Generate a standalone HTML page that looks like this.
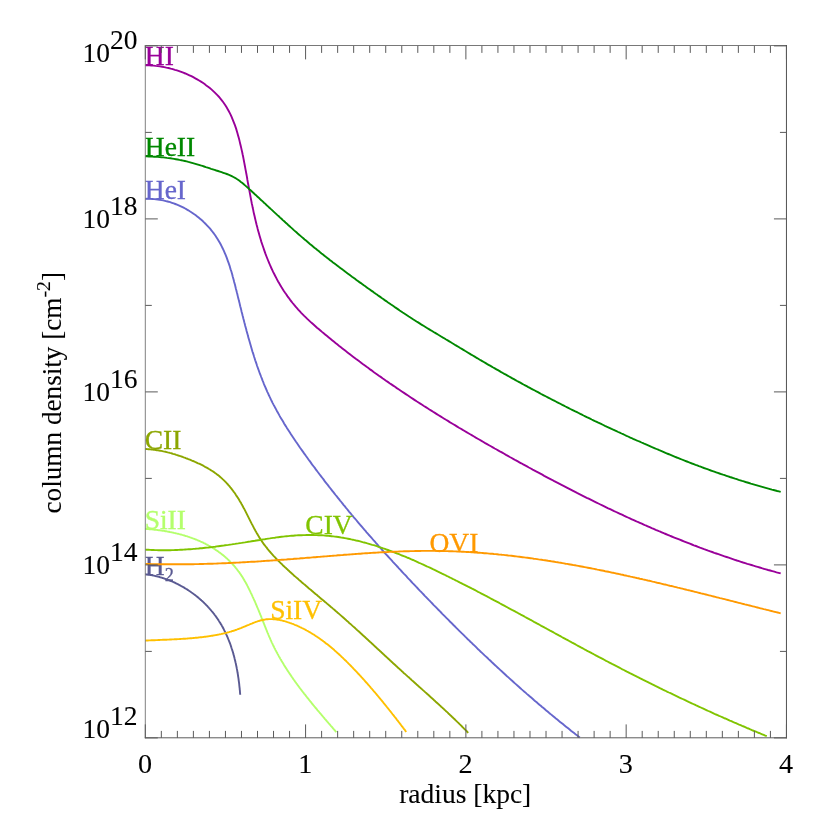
<!DOCTYPE html>
<html><head><meta charset="utf-8"><title>column density</title>
<style>html,body{margin:0;padding:0;background:#fff}svg{display:block}text{font-family:"Liberation Serif",serif}</style></head>
<body>
<svg width="830" height="830" viewBox="0 0 830 830" style="will-change:transform">
<rect width="830" height="830" fill="#fff"/>
<path fill="none" stroke="#990099" stroke-width="1.9" d="M145.0 65.3L147.1 65.3L149.2 65.4L151.4 65.5L153.5 65.6L155.7 65.9L157.8 66.1L159.9 66.4L162.1 66.7L164.2 67.1L166.4 67.6L168.5 68.0L170.7 68.6L172.8 69.1L174.9 69.8L177.0 70.4L179.1 71.1L181.2 71.9L183.3 72.7L185.3 73.5L187.4 74.4L189.4 75.3L191.4 76.2L193.3 77.2L195.3 78.3L197.2 79.4L199.1 80.5L201.0 81.6L202.8 82.8L204.6 84.1L206.3 85.4L208.1 86.7L209.8 88.0L211.4 89.4L213.0 90.9L214.6 92.4L216.1 93.9L217.6 95.4L219.1 97.0L220.4 98.6L221.8 100.3L223.1 102.0L224.3 103.7L225.5 105.5L226.6 107.3L227.7 109.2L228.7 111.0L229.7 112.9L230.7 114.8L231.6 116.8L232.4 118.8L233.2 120.8L234.0 122.8L234.8 124.8L235.5 126.9L236.2 128.9L236.8 131.0L237.4 133.1L238.0 135.2L238.6 137.3L239.2 139.4L239.7 141.6L240.2 143.7L240.7 145.8L241.2 147.9L241.7 150.1L242.2 152.2L242.6 154.3L243.1 156.5L243.5 158.6L243.9 160.7L244.3 162.9L244.7 165.0L245.1 167.1L245.5 169.3L245.9 171.4L246.3 173.5L246.7 175.7L247.1 177.8L247.4 179.9L247.8 182.1L248.2 184.2L248.6 186.4L249.0 188.5L249.4 190.6L249.8 192.8L250.2 194.9L250.6 197.1L251.0 199.2L251.4 201.4L251.8 203.5L252.3 205.6L252.7 207.8L253.2 209.9L253.6 212.1L254.1 214.2L254.6 216.3L255.1 218.5L255.6 220.6L256.1 222.7L256.6 224.8L257.2 226.9L257.7 229.0L258.3 231.2L258.9 233.3L259.5 235.4L260.1 237.4L260.7 239.5L261.3 241.6L262.0 243.7L262.7 245.7L263.4 247.8L264.1 249.9L264.8 251.9L265.5 253.9L266.3 256.0L267.1 258.0L267.9 260.0L268.7 262.0L269.6 264.0L270.4 266.0L271.3 268.0L272.2 269.9L273.1 271.9L274.1 273.8L275.1 275.7L276.1 277.7L277.1 279.6L278.1 281.5L279.2 283.3L280.3 285.2L281.4 287.1L282.6 288.9L283.7 290.7L284.9 292.5L286.2 294.3L287.4 296.1L288.7 297.8L290.0 299.6L291.3 301.3L292.6 303.0L294.0 304.7L295.4 306.3L296.8 308.0L298.2 309.6L299.7 311.2L301.2 312.8L302.7 314.3L304.2 315.9L305.8 317.4L307.3 318.9L308.9 320.4L310.5 321.9L312.1 323.3L313.8 324.8L315.4 326.2L317.0 327.7L318.7 329.1L320.4 330.5L322.0 331.9L323.7 333.3L325.4 334.7L327.1 336.1L328.8 337.5L330.4 338.8L332.1 340.2L333.8 341.6L335.5 343.0L337.2 344.3L338.9 345.7L340.6 347.0L342.4 348.4L344.1 349.7L345.8 351.1L347.5 352.4L349.2 353.7L350.9 355.1L352.7 356.4L354.4 357.7L356.1 359.0L357.9 360.3L359.6 361.6L361.4 362.9L363.1 364.2L364.9 365.5L366.6 366.8L368.4 368.1L370.1 369.4L371.9 370.6L373.6 371.9L375.4 373.2L377.2 374.4L378.9 375.7L380.7 376.9L382.5 378.2L384.3 379.4L386.0 380.7L387.8 381.9L389.6 383.2L391.4 384.4L393.2 385.6L395.0 386.8L396.8 388.1L398.6 389.3L400.4 390.5L402.2 391.7L404.0 392.9L405.8 394.1L407.6 395.3L409.4 396.5L411.2 397.7L413.0 398.9L414.8 400.1L416.6 401.3L418.5 402.5L420.3 403.6L422.1 404.8L423.9 406.0L425.8 407.1L427.6 408.3L429.4 409.5L431.3 410.6L433.1 411.8L434.9 412.9L436.8 414.1L438.6 415.2L440.5 416.4L442.3 417.5L444.2 418.7L446.0 419.8L447.9 420.9L449.7 422.1L451.6 423.2L453.4 424.3L455.3 425.4L457.2 426.6L459.0 427.7L460.9 428.8L462.7 429.9L464.6 431.0L466.5 432.1L468.4 433.2L470.2 434.3L472.1 435.4L474.0 436.5L475.8 437.6L477.7 438.7L479.6 439.8L481.5 440.9L483.4 442.0L485.2 443.1L487.1 444.1L489.0 445.2L490.9 446.3L492.8 447.4L494.7 448.5L496.6 449.5L498.5 450.6L500.4 451.7L502.3 452.7L504.2 453.8L506.0 454.9L507.9 455.9L509.8 457.0L511.7 458.0L513.6 459.1L515.5 460.2L517.4 461.2L519.4 462.3L521.3 463.3L523.2 464.4L525.1 465.4L527.0 466.4L528.9 467.5L530.8 468.5L532.7 469.6L534.6 470.6L536.5 471.6L538.5 472.7L540.4 473.7L542.3 474.7L544.2 475.8L546.1 476.8L548.0 477.8L550.0 478.8L551.9 479.8L553.8 480.9L555.7 481.9L557.7 482.9L559.6 483.9L561.5 484.9L563.5 485.9L565.4 486.9L567.3 487.9L569.3 488.9L571.2 489.9L573.1 490.9L575.1 491.9L577.0 492.9L578.9 493.8L580.9 494.8L582.8 495.8L584.8 496.8L586.7 497.8L588.7 498.7L590.6 499.7L592.6 500.7L594.5 501.6L596.5 502.6L598.4 503.5L600.4 504.5L602.3 505.4L604.3 506.4L606.2 507.3L608.2 508.3L610.2 509.2L612.1 510.1L614.1 511.1L616.1 512.0L618.0 512.9L620.0 513.8L622.0 514.7L623.9 515.7L625.9 516.6L627.9 517.5L629.9 518.4L631.8 519.3L633.8 520.2L635.8 521.1L637.8 522.0L639.8 522.8L641.8 523.7L643.7 524.6L645.7 525.5L647.7 526.3L649.7 527.2L651.7 528.1L653.7 528.9L655.7 529.8L657.7 530.6L659.7 531.5L661.7 532.3L663.7 533.2L665.7 534.0L667.7 534.8L669.7 535.7L671.7 536.5L673.7 537.3L675.7 538.1L677.8 538.9L679.8 539.7L681.8 540.5L683.8 541.3L685.8 542.1L687.8 542.9L689.9 543.7L691.9 544.5L693.9 545.3L696.0 546.0L698.0 546.8L700.0 547.6L702.0 548.3L704.1 549.1L706.1 549.8L708.2 550.6L710.2 551.3L712.2 552.0L714.3 552.8L716.3 553.5L718.4 554.2L720.4 554.9L722.5 555.6L724.5 556.3L726.6 557.0L728.7 557.7L730.7 558.4L732.8 559.1L734.8 559.8L736.9 560.5L739.0 561.1L741.0 561.8L743.1 562.5L745.2 563.1L747.3 563.8L749.3 564.4L751.4 565.0L753.5 565.7L755.6 566.3L757.6 566.9L759.7 567.5L761.8 568.2L763.9 568.8L766.0 569.4L768.1 570.0L770.2 570.5L772.3 571.1L774.4 571.7L776.5 572.3L778.6 572.8L780.7 573.4"/>
<text x="144.8" y="65.2" font-size="27.5" fill="#990099" stroke="#990099" stroke-width="0.3">HI</text>
<path fill="none" stroke="#008800" stroke-width="1.9" d="M145.0 156.4L146.8 156.4L148.7 156.5L150.5 156.5L152.3 156.6L154.1 156.7L156.0 156.8L157.8 156.9L159.6 157.1L161.4 157.3L163.2 157.4L165.1 157.6L166.9 157.9L168.7 158.1L170.5 158.3L172.3 158.6L174.1 158.9L175.9 159.2L177.7 159.5L179.5 159.9L181.3 160.2L183.1 160.6L184.8 161.0L186.6 161.4L188.4 161.9L190.1 162.3L191.9 162.8L193.7 163.3L195.4 163.8L197.1 164.3L198.9 164.8L200.6 165.4L202.4 165.9L204.1 166.5L205.8 167.1L207.6 167.6L209.3 168.2L211.1 168.8L212.8 169.3L214.6 169.9L216.3 170.5L218.1 171.0L219.8 171.6L221.6 172.2L223.3 172.8L225.1 173.4L226.8 174.0L228.5 174.7L230.1 175.4L231.8 176.2L233.4 177.0L235.0 177.8L236.5 178.8L238.0 179.7L239.5 180.8L240.9 181.9L242.4 183.0L243.8 184.2L245.1 185.4L246.5 186.6L247.9 187.8L249.2 189.1L250.6 190.3L251.9 191.5L253.3 192.8L254.6 194.0L256.0 195.2L257.3 196.5L258.7 197.7L260.0 199.0L261.3 200.2L262.7 201.4L264.0 202.7L265.4 203.9L266.7 205.2L268.0 206.4L269.4 207.7L270.7 208.9L272.1 210.1L273.4 211.4L274.7 212.6L276.1 213.9L277.4 215.1L278.8 216.3L280.1 217.6L281.5 218.8L282.8 220.1L284.2 221.3L285.5 222.5L286.9 223.7L288.2 225.0L289.6 226.2L290.9 227.4L292.3 228.6L293.6 229.9L295.0 231.1L296.4 232.3L297.7 233.5L299.1 234.7L300.5 235.9L301.9 237.1L303.3 238.3L304.6 239.5L306.0 240.6L307.4 241.8L308.8 243.0L310.2 244.2L311.6 245.3L313.0 246.5L314.4 247.7L315.9 248.8L317.3 250.0L318.7 251.1L320.1 252.3L321.5 253.4L323.0 254.5L324.4 255.7L325.8 256.8L327.3 257.9L328.7 259.0L330.1 260.2L331.6 261.3L333.0 262.4L334.5 263.5L335.9 264.6L337.4 265.7L338.8 266.8L340.3 267.9L341.8 269.0L343.2 270.1L344.7 271.2L346.1 272.3L347.6 273.4L349.1 274.5L350.5 275.6L352.0 276.7L353.5 277.7L355.0 278.8L356.4 279.9L357.9 281.0L359.4 282.1L360.9 283.1L362.4 284.2L363.8 285.3L365.3 286.3L366.8 287.4L368.3 288.5L369.8 289.5L371.3 290.6L372.8 291.6L374.2 292.7L375.7 293.8L377.2 294.8L378.7 295.9L380.2 296.9L381.7 298.0L383.2 299.0L384.7 300.1L386.2 301.1L387.7 302.2L389.2 303.2L390.7 304.3L392.2 305.3L393.7 306.3L395.2 307.4L396.7 308.4L398.2 309.4L399.7 310.5L401.2 311.5L402.7 312.5L404.3 313.5L405.8 314.5L407.3 315.5L408.8 316.5L410.4 317.5L411.9 318.5L413.4 319.5L415.0 320.5L416.5 321.5L418.1 322.4L419.6 323.4L421.1 324.4L422.7 325.3L424.3 326.3L425.8 327.2L427.4 328.2L428.9 329.1L430.5 330.1L432.1 331.0L433.6 332.0L435.2 332.9L436.8 333.8L438.3 334.8L439.9 335.7L441.5 336.7L443.0 337.6L444.6 338.5L446.1 339.5L447.7 340.4L449.3 341.4L450.8 342.3L452.4 343.3L454.0 344.2L455.5 345.2L457.1 346.1L458.7 347.0L460.2 348.0L461.8 348.9L463.4 349.9L464.9 350.8L466.5 351.7L468.1 352.7L469.6 353.6L471.2 354.6L472.8 355.5L474.3 356.4L475.9 357.4L477.5 358.3L479.0 359.2L480.6 360.2L482.2 361.1L483.8 362.0L485.3 362.9L486.9 363.9L488.5 364.8L490.1 365.7L491.7 366.6L493.2 367.5L494.8 368.4L496.4 369.3L498.0 370.2L499.6 371.1L501.2 372.1L502.8 373.0L504.3 373.9L505.9 374.7L507.5 375.6L509.1 376.5L510.7 377.4L512.3 378.3L513.9 379.2L515.5 380.1L517.1 381.0L518.7 381.8L520.3 382.7L521.9 383.6L523.5 384.5L525.1 385.3L526.7 386.2L528.3 387.1L529.9 387.9L531.5 388.8L533.1 389.7L534.8 390.5L536.4 391.4L538.0 392.2L539.6 393.1L541.2 394.0L542.8 394.8L544.4 395.7L546.1 396.5L547.7 397.3L549.3 398.2L550.9 399.0L552.5 399.9L554.2 400.7L555.8 401.5L557.4 402.4L559.0 403.2L560.7 404.0L562.3 404.9L563.9 405.7L565.5 406.5L567.2 407.3L568.8 408.2L570.4 409.0L572.1 409.8L573.7 410.6L575.3 411.4L577.0 412.2L578.6 413.0L580.3 413.9L581.9 414.7L583.5 415.5L585.2 416.3L586.8 417.1L588.5 417.9L590.1 418.7L591.7 419.5L593.4 420.3L595.0 421.1L596.7 421.8L598.3 422.6L600.0 423.4L601.6 424.2L603.3 425.0L604.9 425.8L606.6 426.6L608.2 427.3L609.9 428.1L611.5 428.9L613.2 429.7L614.8 430.4L616.5 431.2L618.2 432.0L619.8 432.7L621.5 433.5L623.1 434.2L624.8 435.0L626.5 435.8L628.1 436.5L629.8 437.3L631.5 438.0L633.1 438.8L634.8 439.5L636.5 440.3L638.1 441.0L639.8 441.7L641.5 442.5L643.1 443.2L644.8 444.0L646.5 444.7L648.2 445.4L649.8 446.1L651.5 446.9L653.2 447.6L654.9 448.3L656.5 449.0L658.2 449.7L659.9 450.5L661.6 451.2L663.3 451.9L664.9 452.6L666.6 453.3L668.3 454.0L670.0 454.7L671.7 455.4L673.4 456.1L675.1 456.8L676.8 457.5L678.5 458.1L680.2 458.8L681.8 459.5L683.5 460.2L685.2 460.8L686.9 461.5L688.6 462.2L690.3 462.8L692.0 463.5L693.8 464.1L695.5 464.8L697.2 465.4L698.9 466.1L700.6 466.7L702.3 467.3L704.0 468.0L705.7 468.6L707.4 469.2L709.2 469.8L710.9 470.5L712.6 471.1L714.3 471.7L716.1 472.3L717.8 472.9L719.5 473.5L721.2 474.1L723.0 474.7L724.7 475.2L726.4 475.8L728.2 476.4L729.9 477.0L731.6 477.5L733.4 478.1L735.1 478.7L736.8 479.2L738.6 479.8L740.3 480.3L742.1 480.9L743.8 481.4L745.6 482.0L747.3 482.5L749.1 483.0L750.8 483.6L752.6 484.1L754.3 484.6L756.1 485.1L757.8 485.6L759.6 486.1L761.3 486.6L763.1 487.1L764.8 487.6L766.6 488.1L768.4 488.6L770.1 489.1L771.9 489.6L773.6 490.0L775.4 490.5L777.2 491.0L778.9 491.4L780.7 491.9"/>
<text x="144.8" y="156.4" font-size="27.5" fill="#008800" stroke="#008800" stroke-width="0.3">HeII</text>
<path fill="none" stroke="#6666cc" stroke-width="1.9" d="M145.0 198.9L146.9 198.8L148.7 198.8L150.5 198.9L152.4 199.0L154.2 199.1L156.0 199.3L157.8 199.5L159.6 199.8L161.4 200.1L163.2 200.4L165.0 200.8L166.7 201.3L168.5 201.7L170.2 202.2L171.9 202.8L173.7 203.4L175.3 204.0L177.0 204.7L178.7 205.4L180.3 206.1L182.0 206.9L183.6 207.7L185.2 208.5L186.7 209.4L188.3 210.3L189.8 211.3L191.3 212.2L192.8 213.2L194.3 214.3L195.8 215.3L197.2 216.4L198.6 217.5L200.0 218.7L201.3 219.8L202.7 221.0L204.0 222.3L205.2 223.5L206.5 224.8L207.7 226.1L208.9 227.4L210.1 228.7L211.2 230.1L212.3 231.5L213.4 232.9L214.4 234.3L215.5 235.8L216.4 237.2L217.4 238.7L218.3 240.2L219.2 241.7L220.1 243.3L220.9 244.8L221.7 246.4L222.5 248.0L223.3 249.6L224.0 251.2L224.7 252.8L225.4 254.4L226.1 256.1L226.7 257.7L227.3 259.4L227.9 261.1L228.5 262.7L229.1 264.4L229.7 266.1L230.2 267.9L230.7 269.6L231.3 271.3L231.8 273.0L232.3 274.8L232.7 276.5L233.2 278.3L233.7 280.0L234.1 281.8L234.6 283.5L235.1 285.3L235.5 287.0L235.9 288.8L236.4 290.6L236.8 292.3L237.3 294.1L237.7 295.9L238.1 297.6L238.6 299.4L239.0 301.1L239.5 302.9L239.9 304.7L240.3 306.4L240.8 308.2L241.2 309.9L241.6 311.7L242.1 313.4L242.5 315.2L243.0 317.0L243.4 318.7L243.9 320.5L244.3 322.2L244.8 324.0L245.2 325.7L245.7 327.4L246.2 329.2L246.6 330.9L247.1 332.7L247.6 334.4L248.0 336.1L248.5 337.9L249.0 339.6L249.5 341.3L250.0 343.1L250.5 344.8L251.0 346.5L251.5 348.2L252.0 350.0L252.5 351.7L253.1 353.4L253.6 355.1L254.1 356.8L254.7 358.5L255.2 360.2L255.8 361.9L256.4 363.6L256.9 365.3L257.5 367.0L258.1 368.6L258.7 370.3L259.3 372.0L259.9 373.7L260.6 375.3L261.2 377.0L261.9 378.7L262.5 380.3L263.2 382.0L263.8 383.6L264.5 385.3L265.2 386.9L265.9 388.5L266.6 390.2L267.3 391.8L268.1 393.4L268.8 395.0L269.6 396.7L270.4 398.3L271.1 399.9L271.9 401.5L272.7 403.1L273.5 404.6L274.4 406.2L275.2 407.8L276.1 409.4L276.9 411.0L277.8 412.5L278.7 414.1L279.5 415.6L280.4 417.2L281.3 418.7L282.3 420.3L283.2 421.8L284.1 423.4L285.0 424.9L286.0 426.4L286.9 428.0L287.9 429.5L288.9 431.0L289.9 432.5L290.8 434.0L291.8 435.5L292.8 437.0L293.8 438.5L294.8 440.0L295.8 441.5L296.9 443.0L297.9 444.5L298.9 446.0L299.9 447.5L301.0 449.0L302.0 450.4L303.1 451.9L304.1 453.4L305.2 454.8L306.2 456.3L307.3 457.8L308.3 459.2L309.4 460.7L310.5 462.1L311.5 463.6L312.6 465.1L313.7 466.5L314.8 467.9L315.8 469.4L316.9 470.8L318.0 472.3L319.1 473.7L320.2 475.2L321.3 476.6L322.4 478.0L323.5 479.4L324.5 480.9L325.6 482.3L326.7 483.7L327.9 485.1L329.0 486.6L330.1 488.0L331.2 489.4L332.3 490.8L333.4 492.2L334.5 493.6L335.6 495.0L336.8 496.4L337.9 497.8L339.0 499.2L340.1 500.6L341.3 502.0L342.4 503.4L343.5 504.8L344.7 506.2L345.8 507.6L347.0 509.0L348.1 510.4L349.2 511.8L350.4 513.1L351.5 514.5L352.7 515.9L353.8 517.3L355.0 518.6L356.2 520.0L357.3 521.4L358.5 522.8L359.6 524.1L360.8 525.5L362.0 526.8L363.1 528.2L364.3 529.6L365.5 530.9L366.6 532.3L367.8 533.6L369.0 535.0L370.2 536.3L371.4 537.7L372.5 539.0L373.7 540.4L374.9 541.7L376.1 543.1L377.3 544.4L378.5 545.8L379.7 547.1L380.9 548.4L382.1 549.8L383.2 551.1L384.4 552.5L385.6 553.8L386.8 555.1L388.1 556.5L389.3 557.8L390.5 559.1L391.7 560.4L392.9 561.8L394.1 563.1L395.3 564.4L396.5 565.7L397.7 567.0L398.9 568.4L400.2 569.7L401.4 571.0L402.6 572.3L403.8 573.6L405.1 574.9L406.3 576.2L407.5 577.6L408.7 578.9L410.0 580.2L411.2 581.5L412.4 582.8L413.7 584.1L414.9 585.4L416.1 586.7L417.4 588.0L418.6 589.3L419.8 590.6L421.1 591.9L422.3 593.2L423.6 594.5L424.8 595.8L426.1 597.1L427.3 598.4L428.5 599.7L429.8 600.9L431.0 602.2L432.3 603.5L433.5 604.8L434.8 606.1L436.1 607.4L437.3 608.7L438.6 610.0L439.8 611.2L441.1 612.5L442.3 613.8L443.6 615.1L444.9 616.4L446.1 617.6L447.4 618.9L448.7 620.2L449.9 621.5L451.2 622.7L452.5 624.0L453.7 625.3L455.0 626.5L456.3 627.8L457.6 629.1L458.8 630.3L460.1 631.6L461.4 632.9L462.7 634.1L464.0 635.4L465.2 636.7L466.5 637.9L467.8 639.2L469.1 640.4L470.4 641.7L471.7 642.9L473.0 644.2L474.3 645.4L475.6 646.7L476.8 647.9L478.1 649.2L479.4 650.4L480.7 651.7L482.0 652.9L483.3 654.1L484.6 655.4L486.0 656.6L487.3 657.8L488.6 659.1L489.9 660.3L491.2 661.5L492.5 662.8L493.8 664.0L495.1 665.2L496.4 666.4L497.8 667.7L499.1 668.9L500.4 670.1L501.7 671.3L503.0 672.5L504.4 673.8L505.7 675.0L507.0 676.2L508.4 677.4L509.7 678.6L511.0 679.8L512.4 681.0L513.7 682.2L515.0 683.4L516.4 684.6L517.7 685.8L519.1 687.0L520.4 688.2L521.7 689.4L523.1 690.6L524.4 691.7L525.8 692.9L527.1 694.1L528.5 695.3L529.9 696.5L531.2 697.6L532.6 698.8L533.9 700.0L535.3 701.2L536.7 702.3L538.0 703.5L539.4 704.7L540.8 705.8L542.1 707.0L543.5 708.1L544.9 709.3L546.2 710.5L547.6 711.6L549.0 712.8L550.4 713.9L551.8 715.1L553.2 716.2L554.5 717.3L555.9 718.5L557.3 719.6L558.7 720.8L560.1 721.9L561.5 723.0L562.9 724.1L564.3 725.3L565.7 726.4L567.1 727.5L568.5 728.6L569.9 729.7L571.3 730.9L572.7 732.0L574.1 733.1L575.5 734.2L577.0 735.3L578.4 736.4L579.8 737.5"/>
<text x="144.8" y="198.9" font-size="27.5" fill="#6666cc" stroke="#6666cc" stroke-width="0.3">HeI</text>
<path fill="none" stroke="#8ca600" stroke-width="1.9" d="M145.0 449.0L146.1 449.0L147.2 449.1L148.3 449.2L149.3 449.3L150.4 449.4L151.5 449.5L152.6 449.6L153.7 449.7L154.8 449.8L155.8 450.0L156.9 450.2L158.0 450.3L159.1 450.5L160.2 450.7L161.2 450.9L162.3 451.1L163.4 451.4L164.5 451.6L165.5 451.8L166.6 452.1L167.7 452.4L168.8 452.6L169.8 452.9L170.9 453.2L172.0 453.5L173.0 453.8L174.1 454.1L175.2 454.4L176.2 454.8L177.3 455.1L178.3 455.5L179.4 455.8L180.5 456.2L181.5 456.5L182.6 456.9L183.6 457.3L184.7 457.7L185.7 458.1L186.8 458.5L187.8 458.9L188.9 459.3L189.9 459.7L190.9 460.1L192.0 460.6L193.0 461.0L194.0 461.4L195.1 461.9L196.1 462.3L197.1 462.8L198.1 463.3L199.1 463.7L200.2 464.2L201.2 464.7L202.2 465.2L203.2 465.7L204.1 466.2L205.1 466.8L206.1 467.3L207.1 467.8L208.0 468.4L209.0 469.0L209.9 469.5L210.8 470.1L211.8 470.7L212.7 471.3L213.6 471.9L214.5 472.5L215.4 473.2L216.3 473.8L217.1 474.5L218.0 475.1L218.9 475.8L219.7 476.5L220.5 477.2L221.3 477.9L222.1 478.6L222.9 479.4L223.7 480.1L224.5 480.9L225.2 481.6L226.0 482.4L226.7 483.2L227.5 484.0L228.2 484.8L228.9 485.6L229.6 486.4L230.3 487.3L231.0 488.1L231.6 489.0L232.3 489.8L233.0 490.7L233.6 491.6L234.3 492.5L234.9 493.3L235.5 494.2L236.1 495.2L236.7 496.1L237.3 497.0L237.9 497.9L238.5 498.8L239.1 499.8L239.6 500.7L240.2 501.7L240.8 502.6L241.3 503.6L241.8 504.6L242.4 505.5L242.9 506.5L243.4 507.5L244.0 508.5L244.5 509.4L245.0 510.4L245.5 511.4L246.0 512.4L246.5 513.4L247.0 514.4L247.5 515.4L248.0 516.4L248.5 517.4L249.0 518.4L249.5 519.4L250.0 520.4L250.5 521.4L251.0 522.4L251.5 523.4L252.1 524.4L252.6 525.4L253.1 526.3L253.6 527.3L254.1 528.3L254.6 529.3L255.2 530.3L255.7 531.2L256.3 532.2L256.8 533.2L257.4 534.1L257.9 535.1L258.5 536.0L259.1 537.0L259.6 537.9L260.2 538.8L260.8 539.8L261.5 540.7L262.1 541.6L262.7 542.5L263.3 543.4L264.0 544.3L264.6 545.1L265.3 546.0L266.0 546.9L266.7 547.7L267.3 548.6L268.0 549.5L268.7 550.3L269.4 551.1L270.2 552.0L270.9 552.8L271.6 553.6L272.3 554.4L273.1 555.3L273.8 556.1L274.6 556.9L275.3 557.7L276.1 558.5L276.9 559.3L277.6 560.0L278.4 560.8L279.2 561.6L280.0 562.4L280.8 563.2L281.6 563.9L282.3 564.7L283.1 565.5L283.9 566.2L284.7 567.0L285.6 567.7L286.4 568.5L287.2 569.2L288.0 570.0L288.8 570.7L289.6 571.5L290.4 572.2L291.3 573.0L292.1 573.7L292.9 574.4L293.7 575.2L294.5 575.9L295.4 576.6L296.2 577.4L297.0 578.1L297.9 578.8L298.7 579.6L299.5 580.3L300.4 581.0L301.2 581.7L302.0 582.5L302.9 583.2L303.7 583.9L304.5 584.6L305.4 585.3L306.2 586.1L307.1 586.8L307.9 587.5L308.7 588.2L309.6 588.9L310.4 589.6L311.3 590.3L312.1 591.1L313.0 591.8L313.8 592.5L314.7 593.2L315.5 593.9L316.4 594.6L317.2 595.3L318.0 596.0L318.9 596.7L319.7 597.5L320.6 598.2L321.4 598.9L322.3 599.6L323.1 600.3L324.0 601.0L324.8 601.7L325.7 602.4L326.5 603.1L327.3 603.9L328.2 604.6L329.0 605.3L329.9 606.0L330.7 606.7L331.6 607.4L332.4 608.1L333.2 608.9L334.1 609.6L334.9 610.3L335.7 611.0L336.6 611.7L337.4 612.5L338.3 613.2L339.1 613.9L339.9 614.6L340.8 615.4L341.6 616.1L342.4 616.8L343.2 617.5L344.1 618.3L344.9 619.0L345.7 619.7L346.5 620.5L347.4 621.2L348.2 621.9L349.0 622.7L349.8 623.4L350.7 624.1L351.5 624.9L352.3 625.6L353.1 626.4L353.9 627.1L354.8 627.8L355.6 628.6L356.4 629.3L357.2 630.1L358.0 630.8L358.9 631.5L359.7 632.3L360.5 633.0L361.3 633.8L362.1 634.5L362.9 635.3L363.7 636.0L364.6 636.8L365.4 637.5L366.2 638.3L367.0 639.0L367.8 639.7L368.6 640.5L369.4 641.2L370.2 642.0L371.1 642.7L371.9 643.5L372.7 644.2L373.5 645.0L374.3 645.7L375.1 646.5L375.9 647.2L376.7 648.0L377.5 648.7L378.3 649.5L379.2 650.2L380.0 651.0L380.8 651.7L381.6 652.5L382.4 653.2L383.2 654.0L384.0 654.7L384.8 655.5L385.6 656.2L386.4 657.0L387.3 657.7L388.1 658.5L388.9 659.2L389.7 660.0L390.5 660.7L391.3 661.5L392.1 662.2L392.9 663.0L393.7 663.7L394.6 664.5L395.4 665.2L396.2 666.0L397.0 666.7L397.8 667.5L398.6 668.2L399.4 668.9L400.3 669.7L401.1 670.4L401.9 671.2L402.7 671.9L403.5 672.7L404.3 673.4L405.2 674.1L406.0 674.9L406.8 675.6L407.6 676.4L408.4 677.1L409.3 677.8L410.1 678.6L410.9 679.3L411.7 680.1L412.5 680.8L413.4 681.5L414.2 682.3L415.0 683.0L415.8 683.7L416.6 684.5L417.5 685.2L418.3 686.0L419.1 686.7L419.9 687.4L420.8 688.2L421.6 688.9L422.4 689.6L423.2 690.4L424.1 691.1L424.9 691.9L425.7 692.6L426.5 693.3L427.3 694.1L428.2 694.8L429.0 695.5L429.8 696.3L430.6 697.0L431.4 697.8L432.3 698.5L433.1 699.2L433.9 700.0L434.7 700.7L435.5 701.5L436.3 702.2L437.2 703.0L438.0 703.7L438.8 704.4L439.6 705.2L440.4 705.9L441.2 706.7L442.0 707.4L442.9 708.2L443.7 708.9L444.5 709.7L445.3 710.4L446.1 711.2L446.9 711.9L447.7 712.7L448.5 713.5L449.3 714.2L450.1 715.0L450.9 715.7L451.7 716.5L452.5 717.3L453.3 718.0L454.1 718.8L454.9 719.5L455.7 720.3L456.5 721.1L457.3 721.9L458.1 722.6L458.9 723.4L459.6 724.2L460.4 724.9L461.2 725.7L462.0 726.5L462.8 727.3L463.6 728.1L464.3 728.9L465.1 729.6L465.9 730.4L466.7 731.2L467.4 732.0L468.2 732.8"/>
<text x="144.7" y="449" font-size="27.5" fill="#8ca600" stroke="#8ca600" stroke-width="0.3">CII</text>
<path fill="none" stroke="#b4ff6c" stroke-width="1.9" d="M145.0 528.9L145.7 528.9L146.4 529.0L147.2 529.0L147.9 529.1L148.6 529.1L149.3 529.2L150.1 529.3L150.8 529.3L151.5 529.4L152.2 529.4L153.0 529.5L153.7 529.6L154.4 529.7L155.2 529.7L155.9 529.8L156.6 529.9L157.3 530.0L158.1 530.1L158.8 530.2L159.5 530.3L160.3 530.4L161.0 530.5L161.7 530.6L162.5 530.7L163.2 530.8L164.0 530.9L164.7 531.0L165.4 531.2L166.2 531.3L166.9 531.4L167.6 531.6L168.4 531.7L169.1 531.8L169.8 532.0L170.6 532.1L171.3 532.3L172.0 532.4L172.8 532.6L173.5 532.7L174.2 532.9L175.0 533.1L175.7 533.2L176.4 533.4L177.2 533.6L177.9 533.8L178.6 533.9L179.3 534.1L180.1 534.3L180.8 534.5L181.5 534.7L182.2 534.9L183.0 535.1L183.7 535.3L184.4 535.5L185.1 535.8L185.8 536.0L186.6 536.2L187.3 536.4L188.0 536.7L188.7 536.9L189.4 537.1L190.1 537.4L190.8 537.6L191.5 537.9L192.2 538.1L192.9 538.4L193.6 538.6L194.3 538.9L195.0 539.2L195.7 539.5L196.4 539.7L197.1 540.0L197.8 540.3L198.5 540.6L199.2 540.9L199.9 541.2L200.5 541.5L201.2 541.8L201.9 542.1L202.6 542.4L203.2 542.7L203.9 543.1L204.6 543.4L205.2 543.7L205.9 544.1L206.6 544.4L207.2 544.8L207.9 545.1L208.5 545.5L209.2 545.8L209.8 546.2L210.5 546.5L211.1 546.9L211.7 547.3L212.4 547.7L213.0 548.1L213.6 548.5L214.3 548.8L214.9 549.2L215.5 549.7L216.1 550.1L216.7 550.5L217.3 550.9L217.9 551.3L218.5 551.7L219.1 552.2L219.7 552.6L220.3 553.0L220.9 553.5L221.5 553.9L222.1 554.4L222.6 554.9L223.2 555.3L223.8 555.8L224.3 556.3L224.9 556.7L225.5 557.2L226.0 557.7L226.6 558.2L227.1 558.7L227.6 559.2L228.2 559.7L228.7 560.2L229.2 560.7L229.8 561.2L230.3 561.8L230.8 562.3L231.3 562.8L231.8 563.4L232.3 563.9L232.8 564.4L233.3 565.0L233.8 565.5L234.3 566.1L234.8 566.6L235.2 567.2L235.7 567.8L236.2 568.3L236.6 568.9L237.1 569.5L237.5 570.1L238.0 570.7L238.4 571.3L238.9 571.8L239.3 572.4L239.7 573.0L240.1 573.6L240.6 574.3L241.0 574.9L241.4 575.5L241.8 576.1L242.2 576.7L242.6 577.3L243.0 578.0L243.3 578.6L243.7 579.2L244.1 579.9L244.5 580.5L244.8 581.2L245.2 581.8L245.6 582.4L245.9 583.1L246.3 583.7L246.6 584.4L247.0 585.0L247.3 585.7L247.7 586.4L248.0 587.0L248.3 587.7L248.7 588.3L249.0 589.0L249.3 589.7L249.7 590.3L250.0 591.0L250.3 591.7L250.6 592.4L250.9 593.0L251.3 593.7L251.6 594.4L251.9 595.0L252.2 595.7L252.5 596.4L252.8 597.1L253.1 597.7L253.4 598.4L253.8 599.1L254.1 599.8L254.4 600.5L254.7 601.1L255.0 601.8L255.3 602.5L255.6 603.2L255.8 603.9L256.1 604.5L256.4 605.2L256.7 605.9L257.0 606.6L257.3 607.3L257.6 608.0L257.9 608.7L258.2 609.3L258.5 610.0L258.7 610.7L259.0 611.4L259.3 612.1L259.6 612.8L259.9 613.5L260.1 614.2L260.4 614.8L260.7 615.5L261.0 616.2L261.3 616.9L261.5 617.6L261.8 618.3L262.1 619.0L262.4 619.7L262.6 620.4L262.9 621.1L263.2 621.7L263.4 622.4L263.7 623.1L264.0 623.8L264.3 624.5L264.5 625.2L264.8 625.9L265.1 626.6L265.4 627.3L265.6 628.0L265.9 628.6L266.2 629.3L266.5 630.0L266.7 630.7L267.0 631.4L267.3 632.1L267.6 632.8L267.9 633.4L268.2 634.1L268.4 634.8L268.7 635.5L269.0 636.2L269.3 636.9L269.6 637.5L269.9 638.2L270.2 638.9L270.5 639.6L270.8 640.2L271.1 640.9L271.4 641.6L271.7 642.3L272.0 642.9L272.4 643.6L272.7 644.3L273.0 644.9L273.3 645.6L273.6 646.3L274.0 646.9L274.3 647.6L274.6 648.2L275.0 648.9L275.3 649.6L275.6 650.2L276.0 650.9L276.3 651.5L276.7 652.2L277.0 652.8L277.4 653.5L277.7 654.1L278.1 654.8L278.4 655.4L278.8 656.1L279.1 656.7L279.5 657.3L279.9 658.0L280.2 658.6L280.6 659.3L281.0 659.9L281.4 660.5L281.7 661.2L282.1 661.8L282.5 662.4L282.9 663.1L283.3 663.7L283.6 664.3L284.0 665.0L284.4 665.6L284.8 666.2L285.2 666.9L285.6 667.5L286.0 668.1L286.4 668.7L286.8 669.3L287.2 670.0L287.6 670.6L288.0 671.2L288.4 671.8L288.8 672.4L289.2 673.1L289.6 673.7L290.1 674.3L290.5 674.9L290.9 675.5L291.3 676.1L291.7 676.7L292.1 677.3L292.6 678.0L293.0 678.6L293.4 679.2L293.8 679.8L294.3 680.4L294.7 681.0L295.1 681.6L295.6 682.2L296.0 682.8L296.4 683.4L296.9 684.0L297.3 684.6L297.8 685.2L298.2 685.8L298.6 686.4L299.1 687.0L299.5 687.6L300.0 688.2L300.4 688.8L300.9 689.4L301.3 690.0L301.8 690.5L302.2 691.1L302.7 691.7L303.1 692.3L303.6 692.9L304.0 693.5L304.5 694.1L305.0 694.7L305.4 695.2L305.9 695.8L306.3 696.4L306.8 697.0L307.3 697.6L307.7 698.2L308.2 698.7L308.7 699.3L309.1 699.9L309.6 700.5L310.1 701.1L310.5 701.6L311.0 702.2L311.5 702.8L311.9 703.4L312.4 704.0L312.9 704.5L313.3 705.1L313.8 705.7L314.3 706.3L314.8 706.8L315.2 707.4L315.7 708.0L316.2 708.5L316.7 709.1L317.1 709.7L317.6 710.3L318.1 710.8L318.6 711.4L319.1 712.0L319.5 712.5L320.0 713.1L320.5 713.7L321.0 714.2L321.5 714.8L321.9 715.4L322.4 715.9L322.9 716.5L323.4 717.1L323.9 717.6L324.3 718.2L324.8 718.8L325.3 719.3L325.8 719.9L326.3 720.5L326.8 721.0L327.2 721.6L327.7 722.1L328.2 722.7L328.7 723.3L329.2 723.8L329.7 724.4L330.1 724.9L330.6 725.5L331.1 726.1L331.6 726.6L332.1 727.2L332.5 727.7L333.0 728.3L333.5 728.9L334.0 729.4L334.5 730.0L335.0 730.5L335.4 731.1L335.9 731.6L336.4 732.2"/>
<text x="144.7" y="528.8" font-size="27.5" fill="#b4ff6c" stroke="#b4ff6c" stroke-width="0.3">SiII</text>
<path fill="none" stroke="#5a5a92" stroke-width="1.9" d="M145.0 574.2L145.4 574.2L145.8 574.3L146.2 574.4L146.7 574.4L147.1 574.5L147.5 574.5L147.9 574.6L148.3 574.6L148.7 574.7L149.2 574.8L149.6 574.8L150.0 574.9L150.4 575.0L150.8 575.1L151.2 575.1L151.6 575.2L152.0 575.3L152.5 575.4L152.9 575.5L153.3 575.5L153.7 575.6L154.1 575.7L154.5 575.8L154.9 575.9L155.3 576.0L155.7 576.1L156.1 576.2L156.6 576.3L157.0 576.4L157.4 576.5L157.8 576.6L158.2 576.7L158.6 576.8L159.0 576.9L159.4 577.0L159.8 577.1L160.2 577.3L160.6 577.4L161.0 577.5L161.4 577.6L161.8 577.7L162.2 577.9L162.6 578.0L163.0 578.1L163.4 578.2L163.8 578.4L164.2 578.5L164.6 578.6L165.0 578.8L165.4 578.9L165.8 579.1L166.2 579.2L166.6 579.3L167.0 579.5L167.4 579.6L167.8 579.8L168.2 579.9L168.6 580.1L169.0 580.2L169.4 580.4L169.8 580.5L170.1 580.7L170.5 580.9L170.9 581.0L171.3 581.2L171.7 581.3L172.1 581.5L172.5 581.7L172.9 581.8L173.2 582.0L173.6 582.2L174.0 582.4L174.4 582.5L174.8 582.7L175.2 582.9L175.5 583.1L175.9 583.3L176.3 583.4L176.7 583.6L177.1 583.8L177.4 584.0L177.8 584.2L178.2 584.4L178.6 584.6L179.0 584.8L179.3 585.0L179.7 585.2L180.1 585.4L180.4 585.6L180.8 585.8L181.2 586.0L181.6 586.2L181.9 586.4L182.3 586.6L182.7 586.8L183.0 587.0L183.4 587.2L183.8 587.4L184.1 587.6L184.5 587.9L184.8 588.1L185.2 588.3L185.6 588.5L185.9 588.7L186.3 589.0L186.6 589.2L187.0 589.4L187.4 589.6L187.7 589.9L188.1 590.1L188.4 590.3L188.8 590.6L189.1 590.8L189.5 591.0L189.8 591.3L190.2 591.5L190.5 591.7L190.9 592.0L191.2 592.2L191.6 592.5L191.9 592.7L192.3 593.0L192.6 593.2L192.9 593.5L193.3 593.7L193.6 594.0L194.0 594.2L194.3 594.5L194.6 594.7L195.0 595.0L195.3 595.3L195.6 595.5L196.0 595.8L196.3 596.0L196.6 596.3L197.0 596.6L197.3 596.8L197.6 597.1L197.9 597.4L198.3 597.6L198.6 597.9L198.9 598.2L199.2 598.5L199.5 598.7L199.9 599.0L200.2 599.3L200.5 599.6L200.8 599.9L201.1 600.1L201.4 600.4L201.8 600.7L202.1 601.0L202.4 601.3L202.7 601.6L203.0 601.8L203.3 602.1L203.6 602.4L203.9 602.7L204.2 603.0L204.5 603.3L204.8 603.6L205.1 603.9L205.4 604.2L205.7 604.5L206.0 604.8L206.3 605.1L206.6 605.4L206.9 605.7L207.2 606.0L207.5 606.3L207.7 606.6L208.0 606.9L208.3 607.2L208.6 607.6L208.9 607.9L209.2 608.2L209.5 608.5L209.7 608.8L210.0 609.1L210.3 609.4L210.6 609.8L210.8 610.1L211.1 610.4L211.4 610.7L211.6 611.0L211.9 611.4L212.2 611.7L212.4 612.0L212.7 612.3L213.0 612.7L213.2 613.0L213.5 613.3L213.8 613.7L214.0 614.0L214.3 614.3L214.5 614.6L214.8 615.0L215.0 615.3L215.3 615.7L215.5 616.0L215.8 616.3L216.0 616.7L216.3 617.0L216.5 617.3L216.7 617.7L217.0 618.0L217.2 618.4L217.5 618.7L217.7 619.1L217.9 619.4L218.2 619.8L218.4 620.1L218.6 620.5L218.8 620.8L219.1 621.2L219.3 621.5L219.5 621.9L219.7 622.2L220.0 622.6L220.2 622.9L220.4 623.3L220.6 623.6L220.8 624.0L221.0 624.4L221.3 624.7L221.5 625.1L221.7 625.4L221.9 625.8L222.1 626.2L222.3 626.5L222.5 626.9L222.7 627.3L222.9 627.6L223.1 628.0L223.3 628.4L223.5 628.7L223.7 629.1L223.9 629.5L224.1 629.8L224.2 630.2L224.4 630.6L224.6 631.0L224.8 631.3L225.0 631.7L225.2 632.1L225.4 632.5L225.5 632.8L225.7 633.2L225.9 633.6L226.1 634.0L226.2 634.3L226.4 634.7L226.6 635.1L226.8 635.5L226.9 635.9L227.1 636.3L227.3 636.6L227.4 637.0L227.6 637.4L227.8 637.8L227.9 638.2L228.1 638.6L228.2 638.9L228.4 639.3L228.6 639.7L228.7 640.1L228.9 640.5L229.0 640.9L229.2 641.3L229.3 641.7L229.5 642.1L229.6 642.5L229.8 642.9L229.9 643.2L230.1 643.6L230.2 644.0L230.4 644.4L230.5 644.8L230.6 645.2L230.8 645.6L230.9 646.0L231.0 646.4L231.2 646.8L231.3 647.2L231.4 647.6L231.6 648.0L231.7 648.4L231.8 648.8L232.0 649.2L232.1 649.6L232.2 650.0L232.3 650.4L232.5 650.8L232.6 651.2L232.7 651.6L232.8 652.0L233.0 652.4L233.1 652.8L233.2 653.2L233.3 653.6L233.4 654.1L233.5 654.5L233.6 654.9L233.8 655.3L233.9 655.7L234.0 656.1L234.1 656.5L234.2 656.9L234.3 657.3L234.4 657.7L234.5 658.1L234.6 658.5L234.7 659.0L234.8 659.4L234.9 659.8L235.0 660.2L235.1 660.6L235.2 661.0L235.3 661.4L235.4 661.8L235.5 662.2L235.6 662.7L235.7 663.1L235.8 663.5L235.9 663.9L236.0 664.3L236.0 664.7L236.1 665.1L236.2 665.6L236.3 666.0L236.4 666.4L236.5 666.8L236.6 667.2L236.6 667.6L236.7 668.0L236.8 668.5L236.9 668.9L237.0 669.3L237.0 669.7L237.1 670.1L237.2 670.5L237.3 671.0L237.3 671.4L237.4 671.8L237.5 672.2L237.5 672.6L237.6 673.1L237.7 673.5L237.8 673.9L237.8 674.3L237.9 674.7L238.0 675.1L238.0 675.6L238.1 676.0L238.1 676.4L238.2 676.8L238.3 677.2L238.3 677.7L238.4 678.1L238.5 678.5L238.5 678.9L238.6 679.3L238.6 679.7L238.7 680.2L238.7 680.6L238.8 681.0L238.8 681.4L238.9 681.8L239.0 682.3L239.0 682.7L239.1 683.1L239.1 683.5L239.2 683.9L239.2 684.4L239.3 684.8L239.3 685.2L239.3 685.6L239.4 686.0L239.4 686.5L239.5 686.9L239.5 687.3L239.6 687.7L239.6 688.1L239.7 688.5L239.7 689.0L239.7 689.4L239.8 689.8L239.8 690.2L239.9 690.6L239.9 691.0L239.9 691.5L240.0 691.9L240.0 692.3L240.0 692.7L240.1 693.1L240.1 693.6L240.1 694.0L240.2 694.4L240.2 694.8"/>
<text x="144.8" y="574.6" font-size="27.5" fill="#5a5a92" stroke="#5a5a92" stroke-width="0.3">H<tspan font-size="18.2" dy="6">2</tspan></text>
<path fill="none" stroke="#80c400" stroke-width="1.9" d="M145.0 549.6L146.7 549.7L148.4 549.8L150.1 549.9L151.8 550.0L153.5 550.0L155.1 550.1L156.8 550.1L158.5 550.2L160.2 550.2L161.9 550.2L163.6 550.2L165.2 550.2L166.9 550.2L168.6 550.2L170.3 550.2L172.0 550.1L173.6 550.1L175.3 550.0L177.0 550.0L178.6 549.9L180.3 549.8L182.0 549.7L183.6 549.6L185.3 549.5L187.0 549.4L188.6 549.3L190.3 549.2L192.0 549.1L193.6 548.9L195.3 548.8L196.9 548.6L198.6 548.5L200.3 548.3L201.9 548.2L203.6 548.0L205.2 547.8L206.9 547.6L208.5 547.5L210.2 547.3L211.9 547.1L213.5 546.9L215.2 546.7L216.8 546.4L218.5 546.2L220.1 546.0L221.8 545.8L223.4 545.6L225.1 545.3L226.8 545.1L228.4 544.9L230.1 544.6L231.7 544.4L233.4 544.1L235.0 543.9L236.7 543.6L238.3 543.4L240.0 543.1L241.6 542.9L243.3 542.6L244.9 542.4L246.6 542.1L248.3 541.8L249.9 541.6L251.6 541.3L253.2 541.0L254.9 540.8L256.5 540.5L258.2 540.2L259.9 540.0L261.5 539.7L263.2 539.4L264.8 539.2L266.5 538.9L268.2 538.6L269.8 538.4L271.5 538.1L273.2 537.9L274.8 537.7L276.5 537.4L278.2 537.2L279.8 537.0L281.5 536.8L283.2 536.6L284.9 536.4L286.5 536.2L288.2 536.1L289.9 535.9L291.6 535.8L293.2 535.7L294.9 535.5L296.6 535.4L298.3 535.3L300.0 535.2L301.6 535.2L303.3 535.1L305.0 535.1L306.7 535.0L308.3 535.0L310.0 535.0L311.7 535.0L313.4 535.0L315.0 535.1L316.7 535.1L318.4 535.2L320.0 535.3L321.7 535.3L323.4 535.4L325.0 535.6L326.7 535.7L328.3 535.9L330.0 536.0L331.6 536.2L333.3 536.4L334.9 536.6L336.6 536.8L338.2 537.0L339.8 537.3L341.5 537.6L343.1 537.8L344.7 538.1L346.4 538.4L348.0 538.7L349.6 539.0L351.3 539.4L352.9 539.7L354.5 540.1L356.1 540.5L357.7 540.8L359.3 541.2L360.9 541.6L362.6 542.1L364.2 542.5L365.8 542.9L367.4 543.4L369.0 543.8L370.6 544.3L372.2 544.8L373.8 545.2L375.3 545.7L376.9 546.2L378.5 546.8L380.1 547.3L381.7 547.8L383.3 548.4L384.9 548.9L386.4 549.5L388.0 550.0L389.6 550.6L391.2 551.2L392.7 551.8L394.3 552.4L395.9 553.0L397.4 553.6L399.0 554.2L400.6 554.8L402.1 555.5L403.7 556.1L405.2 556.7L406.8 557.4L408.3 558.0L409.9 558.7L411.4 559.4L413.0 560.0L414.5 560.7L416.1 561.4L417.6 562.1L419.1 562.8L420.7 563.5L422.2 564.2L423.8 564.9L425.3 565.6L426.8 566.3L428.4 567.0L429.9 567.7L431.4 568.4L432.9 569.2L434.5 569.9L436.0 570.6L437.5 571.4L439.0 572.1L440.5 572.8L442.1 573.6L443.6 574.3L445.1 575.0L446.6 575.8L448.1 576.5L449.6 577.3L451.1 578.0L452.6 578.8L454.1 579.5L455.6 580.3L457.1 581.0L458.6 581.8L460.1 582.6L461.6 583.3L463.1 584.1L464.6 584.8L466.1 585.6L467.6 586.4L469.1 587.1L470.6 587.9L472.1 588.7L473.6 589.4L475.1 590.2L476.6 591.0L478.1 591.8L479.5 592.5L481.0 593.3L482.5 594.1L484.0 594.9L485.5 595.7L487.0 596.4L488.4 597.2L489.9 598.0L491.4 598.8L492.9 599.6L494.3 600.4L495.8 601.1L497.3 601.9L498.8 602.7L500.2 603.5L501.7 604.3L503.2 605.1L504.7 605.9L506.1 606.7L507.6 607.5L509.1 608.3L510.5 609.1L512.0 609.9L513.5 610.6L515.0 611.4L516.4 612.2L517.9 613.0L519.4 613.8L520.8 614.6L522.3 615.4L523.8 616.2L525.2 617.0L526.7 617.8L528.2 618.6L529.6 619.4L531.1 620.2L532.6 621.0L534.0 621.8L535.5 622.6L536.9 623.4L538.4 624.2L539.9 625.0L541.3 625.8L542.8 626.6L544.3 627.4L545.7 628.2L547.2 629.0L548.7 629.8L550.1 630.6L551.6 631.4L553.1 632.2L554.5 633.0L556.0 633.8L557.5 634.6L558.9 635.4L560.4 636.2L561.8 637.0L563.3 637.8L564.8 638.6L566.2 639.4L567.7 640.2L569.2 641.0L570.7 641.8L572.1 642.6L573.6 643.4L575.1 644.2L576.5 645.0L578.0 645.8L579.5 646.6L580.9 647.4L582.4 648.2L583.9 649.0L585.4 649.8L586.8 650.6L588.3 651.4L589.8 652.1L591.3 652.9L592.7 653.7L594.2 654.5L595.7 655.3L597.2 656.1L598.6 656.9L600.1 657.6L601.6 658.4L603.1 659.2L604.6 660.0L606.1 660.8L607.5 661.5L609.0 662.3L610.5 663.1L612.0 663.9L613.5 664.6L615.0 665.4L616.5 666.2L617.9 666.9L619.4 667.7L620.9 668.5L622.4 669.3L623.9 670.0L625.4 670.8L626.9 671.6L628.4 672.3L629.9 673.1L631.4 673.8L632.9 674.6L634.4 675.4L635.9 676.1L637.4 676.9L638.9 677.6L640.3 678.4L641.8 679.1L643.3 679.9L644.8 680.6L646.4 681.4L647.9 682.1L649.4 682.9L650.9 683.6L652.4 684.4L653.9 685.1L655.4 685.9L656.9 686.6L658.4 687.3L659.9 688.1L661.4 688.8L662.9 689.6L664.4 690.3L665.9 691.0L667.4 691.8L668.9 692.5L670.5 693.2L672.0 693.9L673.5 694.7L675.0 695.4L676.5 696.1L678.0 696.8L679.5 697.6L681.1 698.3L682.6 699.0L684.1 699.7L685.6 700.4L687.1 701.2L688.6 701.9L690.2 702.6L691.7 703.3L693.2 704.0L694.7 704.7L696.2 705.4L697.8 706.1L699.3 706.8L700.8 707.5L702.3 708.2L703.9 708.9L705.4 709.6L706.9 710.3L708.4 711.0L710.0 711.7L711.5 712.4L713.0 713.1L714.5 713.8L716.1 714.5L717.6 715.1L719.1 715.8L720.7 716.5L722.2 717.2L723.7 717.9L725.2 718.5L726.8 719.2L728.3 719.9L729.8 720.6L731.4 721.2L732.9 721.9L734.5 722.6L736.0 723.2L737.5 723.9L739.1 724.6L740.6 725.2L742.1 725.9L743.7 726.5L745.2 727.2L746.7 727.9L748.3 728.5L749.8 729.2L751.4 729.8L752.9 730.5L754.5 731.1L756.0 731.7L757.5 732.4L759.1 733.0L760.6 733.7L762.2 734.3L763.7 734.9L765.3 735.6L766.8 736.2"/>
<text x="305.3" y="534.4" font-size="27.5" fill="#80c400" stroke="#80c400" stroke-width="0.3">CIV</text>
<path fill="none" stroke="#ff9900" stroke-width="1.9" d="M145.0 563.9L146.6 563.9L148.2 564.0L149.8 564.0L151.5 564.1L153.1 564.1L154.7 564.1L156.3 564.2L157.9 564.2L159.5 564.2L161.1 564.3L162.8 564.3L164.4 564.3L166.0 564.3L167.6 564.3L169.2 564.3L170.8 564.3L172.4 564.3L174.0 564.3L175.7 564.3L177.3 564.3L178.9 564.3L180.5 564.3L182.1 564.3L183.7 564.3L185.3 564.3L186.9 564.3L188.5 564.2L190.1 564.2L191.7 564.2L193.4 564.2L195.0 564.1L196.6 564.1L198.2 564.1L199.8 564.0L201.4 564.0L203.0 564.0L204.6 563.9L206.2 563.9L207.8 563.8L209.4 563.8L211.0 563.7L212.6 563.7L214.2 563.6L215.8 563.6L217.5 563.5L219.1 563.4L220.7 563.4L222.3 563.3L223.9 563.2L225.5 563.2L227.1 563.1L228.7 563.0L230.3 563.0L231.9 562.9L233.5 562.8L235.1 562.7L236.7 562.6L238.3 562.6L239.9 562.5L241.5 562.4L243.1 562.3L244.7 562.2L246.3 562.1L247.9 562.0L249.6 561.9L251.2 561.8L252.8 561.8L254.4 561.7L256.0 561.6L257.6 561.5L259.2 561.4L260.8 561.3L262.4 561.1L264.0 561.0L265.6 560.9L267.2 560.8L268.8 560.7L270.4 560.6L272.0 560.5L273.6 560.4L275.2 560.3L276.8 560.2L278.4 560.0L280.1 559.9L281.7 559.8L283.3 559.7L284.9 559.6L286.5 559.5L288.1 559.3L289.7 559.2L291.3 559.1L292.9 559.0L294.5 558.8L296.1 558.7L297.7 558.6L299.3 558.5L300.9 558.3L302.6 558.2L304.2 558.1L305.8 557.9L307.4 557.8L309.0 557.7L310.6 557.6L312.2 557.4L313.8 557.3L315.4 557.2L317.0 557.0L318.6 556.9L320.3 556.8L321.9 556.6L323.5 556.5L325.1 556.4L326.7 556.3L328.3 556.1L329.9 556.0L331.5 555.9L333.1 555.7L334.8 555.6L336.4 555.5L338.0 555.3L339.6 555.2L341.2 555.1L342.8 555.0L344.4 554.8L346.0 554.7L347.6 554.6L349.3 554.5L350.9 554.4L352.5 554.2L354.1 554.1L355.7 554.0L357.3 553.9L358.9 553.8L360.5 553.7L362.1 553.5L363.8 553.4L365.4 553.3L367.0 553.2L368.6 553.1L370.2 553.0L371.8 552.9L373.4 552.8L375.0 552.7L376.7 552.6L378.3 552.5L379.9 552.4L381.5 552.3L383.1 552.3L384.7 552.2L386.3 552.1L387.9 552.0L389.5 551.9L391.2 551.9L392.8 551.8L394.4 551.7L396.0 551.6L397.6 551.6L399.2 551.5L400.8 551.4L402.4 551.4L404.0 551.3L405.6 551.3L407.3 551.2L408.9 551.2L410.5 551.1L412.1 551.1L413.7 551.1L415.3 551.0L416.9 551.0L418.5 551.0L420.1 551.0L421.7 550.9L423.3 550.9L425.0 550.9L426.6 550.9L428.2 550.9L429.8 550.9L431.4 550.9L433.0 550.9L434.6 550.9L436.2 550.9L437.8 551.0L439.4 551.0L441.0 551.0L442.6 551.0L444.2 551.1L445.8 551.1L447.4 551.1L449.1 551.2L450.7 551.2L452.3 551.3L453.9 551.4L455.5 551.4L457.1 551.5L458.7 551.6L460.3 551.6L461.9 551.7L463.5 551.8L465.1 551.9L466.7 552.0L468.3 552.0L469.9 552.1L471.5 552.2L473.1 552.3L474.7 552.5L476.3 552.6L477.9 552.7L479.5 552.8L481.1 552.9L482.7 553.0L484.3 553.2L485.9 553.3L487.5 553.4L489.1 553.6L490.7 553.7L492.3 553.8L493.9 554.0L495.5 554.1L497.1 554.3L498.7 554.5L500.3 554.6L501.9 554.8L503.5 554.9L505.1 555.1L506.7 555.3L508.3 555.5L509.9 555.6L511.5 555.8L513.1 556.0L514.7 556.2L516.2 556.4L517.8 556.6L519.4 556.8L521.0 557.0L522.6 557.2L524.2 557.4L525.8 557.6L527.4 557.8L529.0 558.0L530.6 558.2L532.2 558.4L533.8 558.7L535.4 558.9L537.0 559.1L538.6 559.4L540.1 559.6L541.7 559.8L543.3 560.1L544.9 560.3L546.5 560.5L548.1 560.8L549.7 561.0L551.3 561.3L552.9 561.5L554.5 561.8L556.0 562.1L557.6 562.3L559.2 562.6L560.8 562.8L562.4 563.1L564.0 563.4L565.6 563.7L567.2 563.9L568.8 564.2L570.3 564.5L571.9 564.8L573.5 565.1L575.1 565.3L576.7 565.6L578.3 565.9L579.9 566.2L581.4 566.5L583.0 566.8L584.6 567.1L586.2 567.4L587.8 567.7L589.4 568.0L590.9 568.3L592.5 568.6L594.1 568.9L595.7 569.2L597.3 569.6L598.9 569.9L600.4 570.2L602.0 570.5L603.6 570.8L605.2 571.2L606.8 571.5L608.4 571.8L609.9 572.1L611.5 572.5L613.1 572.8L614.7 573.1L616.3 573.5L617.8 573.8L619.4 574.1L621.0 574.5L622.6 574.8L624.1 575.2L625.7 575.5L627.3 575.9L628.9 576.2L630.5 576.6L632.0 576.9L633.6 577.3L635.2 577.6L636.8 578.0L638.3 578.3L639.9 578.7L641.5 579.0L643.1 579.4L644.6 579.7L646.2 580.1L647.8 580.5L649.4 580.8L650.9 581.2L652.5 581.6L654.1 581.9L655.7 582.3L657.2 582.7L658.8 583.0L660.4 583.4L662.0 583.8L663.5 584.2L665.1 584.5L666.7 584.9L668.2 585.3L669.8 585.7L671.4 586.0L673.0 586.4L674.5 586.8L676.1 587.2L677.7 587.6L679.2 587.9L680.8 588.3L682.4 588.7L683.9 589.1L685.5 589.5L687.1 589.9L688.7 590.2L690.2 590.6L691.8 591.0L693.4 591.4L694.9 591.8L696.5 592.2L698.1 592.6L699.6 593.0L701.2 593.4L702.8 593.7L704.3 594.1L705.9 594.5L707.4 594.9L709.0 595.3L710.6 595.7L712.1 596.1L713.7 596.5L715.3 596.9L716.8 597.3L718.4 597.7L720.0 598.1L721.5 598.4L723.1 598.8L724.6 599.2L726.2 599.6L727.8 600.0L729.3 600.4L730.9 600.8L732.5 601.2L734.0 601.6L735.6 602.0L737.1 602.4L738.7 602.8L740.3 603.2L741.8 603.6L743.4 604.0L744.9 604.4L746.5 604.7L748.0 605.1L749.6 605.5L751.2 605.9L752.7 606.3L754.3 606.7L755.8 607.1L757.4 607.5L758.9 607.9L760.5 608.3L762.1 608.7L763.6 609.1L765.2 609.4L766.7 609.8L768.3 610.2L769.8 610.6L771.4 611.0L772.9 611.4L774.5 611.8L776.0 612.1L777.6 612.5L779.1 612.9L780.7 613.3"/>
<text x="429.5" y="551.8" font-size="27.5" fill="#ff9900" stroke="#ff9900" stroke-width="0.3">OVI</text>
<path fill="none" stroke="#ffc000" stroke-width="1.9" d="M145.0 640.6L145.8 640.6L146.5 640.5L147.3 640.5L148.1 640.5L148.8 640.4L149.6 640.4L150.4 640.4L151.1 640.3L151.9 640.3L152.7 640.3L153.5 640.2L154.2 640.2L155.0 640.2L155.8 640.1L156.6 640.1L157.3 640.1L158.1 640.0L158.9 640.0L159.7 640.0L160.4 639.9L161.2 639.9L162.0 639.9L162.8 639.8L163.5 639.8L164.3 639.8L165.1 639.7L165.9 639.7L166.7 639.7L167.4 639.6L168.2 639.6L169.0 639.6L169.8 639.5L170.6 639.5L171.3 639.5L172.1 639.4L172.9 639.4L173.7 639.4L174.5 639.3L175.2 639.3L176.0 639.2L176.8 639.2L177.6 639.1L178.4 639.1L179.1 639.1L179.9 639.0L180.7 639.0L181.5 638.9L182.3 638.9L183.1 638.8L183.8 638.8L184.6 638.7L185.4 638.7L186.2 638.6L187.0 638.6L187.7 638.5L188.5 638.4L189.3 638.4L190.1 638.3L190.8 638.2L191.6 638.2L192.4 638.1L193.2 638.0L194.0 638.0L194.7 637.9L195.5 637.8L196.3 637.8L197.1 637.7L197.8 637.6L198.6 637.5L199.4 637.4L200.2 637.3L200.9 637.3L201.7 637.2L202.5 637.1L203.2 637.0L204.0 636.9L204.8 636.8L205.6 636.7L206.3 636.6L207.1 636.5L207.9 636.4L208.6 636.3L209.4 636.1L210.2 636.0L210.9 635.9L211.7 635.8L212.4 635.7L213.2 635.5L214.0 635.4L214.7 635.3L215.5 635.1L216.2 635.0L217.0 634.9L217.8 634.7L218.5 634.6L219.3 634.4L220.0 634.3L220.8 634.1L221.5 633.9L222.3 633.8L223.0 633.6L223.8 633.4L224.5 633.3L225.3 633.1L226.0 632.9L226.8 632.7L227.5 632.5L228.2 632.3L229.0 632.1L229.7 631.9L230.5 631.7L231.2 631.5L232.0 631.2L232.7 631.0L233.4 630.8L234.2 630.5L234.9 630.3L235.6 630.0L236.4 629.8L237.1 629.5L237.8 629.2L238.6 629.0L239.3 628.7L240.0 628.4L240.8 628.1L241.5 627.8L242.2 627.5L243.0 627.2L243.7 626.9L244.4 626.6L245.1 626.3L245.9 626.0L246.6 625.7L247.3 625.4L248.0 625.1L248.8 624.8L249.5 624.5L250.2 624.2L250.9 623.9L251.7 623.6L252.4 623.3L253.1 623.0L253.9 622.7L254.6 622.4L255.3 622.2L256.0 621.9L256.8 621.7L257.5 621.4L258.2 621.2L259.0 621.0L259.7 620.7L260.4 620.5L261.2 620.3L261.9 620.2L262.7 620.0L263.4 619.8L264.1 619.7L264.9 619.6L265.6 619.4L266.4 619.3L267.1 619.3L267.9 619.2L268.6 619.1L269.4 619.1L270.1 619.1L270.9 619.1L271.6 619.1L272.4 619.1L273.2 619.2L273.9 619.2L274.7 619.3L275.4 619.4L276.2 619.5L277.0 619.6L277.7 619.7L278.5 619.8L279.2 619.9L280.0 620.1L280.8 620.3L281.5 620.4L282.3 620.6L283.0 620.8L283.8 621.0L284.5 621.2L285.3 621.4L286.0 621.6L286.8 621.9L287.5 622.1L288.3 622.4L289.0 622.6L289.7 622.9L290.5 623.1L291.2 623.4L291.9 623.7L292.7 623.9L293.4 624.2L294.1 624.5L294.8 624.8L295.6 625.1L296.3 625.4L297.0 625.7L297.7 626.0L298.4 626.3L299.1 626.6L299.8 627.0L300.5 627.3L301.2 627.6L301.9 628.0L302.6 628.3L303.3 628.7L304.0 629.0L304.7 629.4L305.4 629.7L306.0 630.1L306.7 630.5L307.4 630.8L308.1 631.2L308.7 631.6L309.4 632.0L310.1 632.4L310.8 632.8L311.4 633.2L312.1 633.6L312.7 634.0L313.4 634.4L314.1 634.8L314.7 635.2L315.4 635.7L316.0 636.1L316.7 636.5L317.3 637.0L317.9 637.4L318.6 637.8L319.2 638.3L319.9 638.7L320.5 639.2L321.1 639.6L321.8 640.1L322.4 640.5L323.0 641.0L323.6 641.5L324.3 641.9L324.9 642.4L325.5 642.9L326.1 643.4L326.7 643.9L327.4 644.3L328.0 644.8L328.6 645.3L329.2 645.8L329.8 646.3L330.4 646.8L331.0 647.3L331.6 647.8L332.2 648.3L332.8 648.8L333.4 649.3L334.0 649.8L334.6 650.4L335.2 650.9L335.8 651.4L336.3 651.9L336.9 652.4L337.5 653.0L338.1 653.5L338.7 654.0L339.2 654.5L339.8 655.1L340.4 655.6L341.0 656.2L341.5 656.7L342.1 657.2L342.7 657.8L343.3 658.3L343.8 658.9L344.4 659.4L344.9 660.0L345.5 660.5L346.1 661.0L346.6 661.6L347.2 662.2L347.7 662.7L348.3 663.3L348.8 663.8L349.4 664.4L349.9 664.9L350.5 665.5L351.0 666.0L351.6 666.6L352.1 667.2L352.7 667.7L353.2 668.3L353.7 668.9L354.3 669.4L354.8 670.0L355.4 670.6L355.9 671.1L356.4 671.7L357.0 672.2L357.5 672.8L358.0 673.4L358.5 674.0L359.1 674.5L359.6 675.1L360.1 675.7L360.7 676.2L361.2 676.8L361.7 677.4L362.2 677.9L362.7 678.5L363.3 679.1L363.8 679.7L364.3 680.2L364.8 680.8L365.3 681.4L365.8 682.0L366.3 682.5L366.9 683.1L367.4 683.7L367.9 684.3L368.4 684.9L368.9 685.4L369.4 686.0L369.9 686.6L370.4 687.2L370.9 687.8L371.4 688.3L371.9 688.9L372.4 689.5L372.9 690.1L373.4 690.7L373.9 691.3L374.4 691.8L374.9 692.4L375.4 693.0L375.9 693.6L376.4 694.2L376.9 694.8L377.4 695.4L377.9 696.0L378.4 696.6L378.9 697.1L379.3 697.7L379.8 698.3L380.3 698.9L380.8 699.5L381.3 700.1L381.8 700.7L382.3 701.3L382.8 701.9L383.3 702.5L383.7 703.1L384.2 703.7L384.7 704.3L385.2 704.9L385.7 705.5L386.2 706.1L386.7 706.7L387.1 707.3L387.6 707.9L388.1 708.5L388.6 709.1L389.1 709.7L389.5 710.3L390.0 710.9L390.5 711.5L391.0 712.1L391.5 712.7L391.9 713.3L392.4 714.0L392.9 714.6L393.4 715.2L393.9 715.8L394.3 716.4L394.8 717.0L395.3 717.6L395.8 718.2L396.3 718.8L396.7 719.5L397.2 720.1L397.7 720.7L398.2 721.3L398.6 721.9L399.1 722.5L399.6 723.2L400.1 723.8L400.6 724.4L401.0 725.0L401.5 725.6L402.0 726.3L402.5 726.9L402.9 727.5L403.4 728.1L403.9 728.8L404.4 729.4L404.9 730.0L405.3 730.6L405.8 731.3L406.3 731.9"/>
<text x="270.2" y="618.6" font-size="27.5" fill="#ffc000" stroke="#ffc000" stroke-width="0.3">SiIV</text>
<path d="M144.8 45.5H786.95" fill="none" stroke="#787878" stroke-width="1"/>
<path d="M145.3 45V738.4" fill="none" stroke="#808080" stroke-width="1"/>
<path d="M144.8 737.8H786.95" fill="none" stroke="#5c5c5c" stroke-width="1"/>
<path d="M786.45 45V738.4" fill="none" stroke="#505050" stroke-width="1"/>
<path d="M145.30 737.9v-13.5M145.30 45.9v13.5M161.33 737.9v-7M161.33 45.9v7M177.36 737.9v-7M177.36 45.9v7M193.39 737.9v-7M193.39 45.9v7M209.42 737.9v-7M209.42 45.9v7M225.44 737.9v-7M225.44 45.9v7M241.47 737.9v-7M241.47 45.9v7M257.50 737.9v-7M257.50 45.9v7M273.53 737.9v-7M273.53 45.9v7M289.56 737.9v-7M289.56 45.9v7M305.59 737.9v-13.5M305.59 45.9v13.5M321.62 737.9v-7M321.62 45.9v7M337.65 737.9v-7M337.65 45.9v7M353.67 737.9v-7M353.67 45.9v7M369.70 737.9v-7M369.70 45.9v7M385.73 737.9v-7M385.73 45.9v7M401.76 737.9v-7M401.76 45.9v7M417.79 737.9v-7M417.79 45.9v7M433.82 737.9v-7M433.82 45.9v7M449.85 737.9v-7M449.85 45.9v7M465.88 737.9v-13.5M465.88 45.9v13.5M481.90 737.9v-7M481.90 45.9v7M497.93 737.9v-7M497.93 45.9v7M513.96 737.9v-7M513.96 45.9v7M529.99 737.9v-7M529.99 45.9v7M546.02 737.9v-7M546.02 45.9v7M562.05 737.9v-7M562.05 45.9v7M578.08 737.9v-7M578.08 45.9v7M594.11 737.9v-7M594.11 45.9v7M610.13 737.9v-7M610.13 45.9v7M626.16 737.9v-13.5M626.16 45.9v13.5M642.19 737.9v-7M642.19 45.9v7M658.22 737.9v-7M658.22 45.9v7M674.25 737.9v-7M674.25 45.9v7M690.28 737.9v-7M690.28 45.9v7M706.31 737.9v-7M706.31 45.9v7M722.34 737.9v-7M722.34 45.9v7M738.36 737.9v-7M738.36 45.9v7M754.39 737.9v-7M754.39 45.9v7M770.42 737.9v-7M770.42 45.9v7M786.45 737.9v-13.5M786.45 45.9v13.5M145.3 45.90h12.5M786.45 45.90h-12.5M145.3 132.40h6.5M786.45 132.40h-6.5M145.3 218.90h12.5M786.45 218.90h-12.5M145.3 305.40h6.5M786.45 305.40h-6.5M145.3 391.90h12.5M786.45 391.90h-12.5M145.3 478.40h6.5M786.45 478.40h-6.5M145.3 564.90h12.5M786.45 564.90h-12.5M145.3 651.40h6.5M786.45 651.40h-6.5M145.3 737.90h12.5M786.45 737.90h-12.5" stroke="#5a5a5a" stroke-width="1" fill="none"/>
<g font-size="27.5" fill="#000" stroke="#000" stroke-width="0.08">
<text x="145.0" y="772.8" font-size="28.2" text-anchor="middle">0</text>
<text x="305.2" y="772.8" font-size="28.2" text-anchor="middle">1</text>
<text x="465.5" y="772.8" font-size="28.2" text-anchor="middle">2</text>
<text x="625.8" y="772.8" font-size="28.2" text-anchor="middle">3</text>
<text x="786.0" y="772.8" font-size="28.2" text-anchor="middle">4</text>
<text x="137.4" y="62.4" text-anchor="end">10<tspan dy="-13.1">20</tspan></text>
<text x="137.4" y="227.7" text-anchor="end">10<tspan dy="-13.1">18</tspan></text>
<text x="137.4" y="400.7" text-anchor="end">10<tspan dy="-13.1">16</tspan></text>
<text x="137.4" y="573.7" text-anchor="end">10<tspan dy="-13.1">14</tspan></text>
<text x="137.4" y="737.8" text-anchor="end">10<tspan dy="-13.1">12</tspan></text>
<text x="465.2" y="802.5" text-anchor="middle">radius [kpc]</text>
<text transform="translate(60.5,392.7) rotate(-90)" font-size="27.2" text-anchor="middle">column density [cm<tspan font-size="19.8" dy="-11">-2</tspan><tspan dy="11">]</tspan></text>
</g>
</svg></body></html>
